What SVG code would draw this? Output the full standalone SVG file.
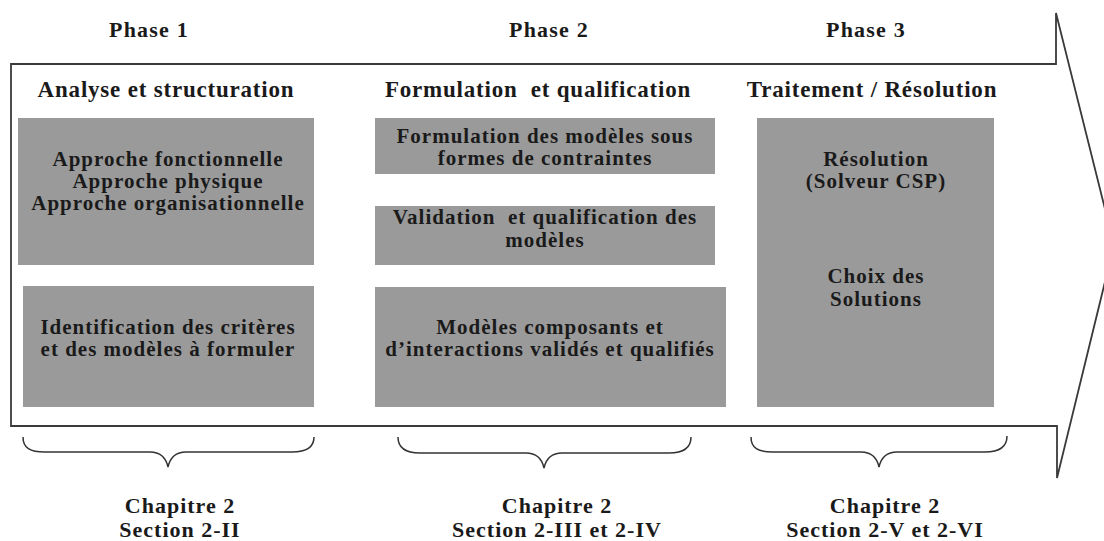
<svg xmlns="http://www.w3.org/2000/svg" width="1104" height="541" viewBox="0 0 1104 541">
  <style>
    .t { font-family: "Liberation Serif", "Times New Roman", serif; font-weight: bold; fill: #1a1a1a; text-anchor: middle; }
    .phase { font-size: 22px; letter-spacing: 1.2px; }
    .head { font-size: 23px; letter-spacing: 0.8px; white-space: pre; }
    .box-text { font-size: 21px; letter-spacing: 1px; white-space: pre; }
    .chap { font-size: 22px; letter-spacing: 1px; }
    .box { fill: #9a9a9a; }
    .outline { fill: none; stroke: #3a3a3a; stroke-width: 1.8; stroke-linejoin: miter; }
    .brace { fill: none; stroke: #333333; stroke-width: 1.5; }
  </style>

  <rect width="1104" height="541" fill="#ffffff"/>

  <!-- large process arrow -->
  <g id="process-arrow">
    <path class="outline" d="M11,64 L1056,64 L1056,13 L1114,245 L1057,478 L1057,426 L11,426 Z"/>
  </g>

  <!-- phase titles -->
  <g id="phase-titles">
    <text class="t phase" x="149" y="37">Phase 1</text>
    <text class="t phase" x="549" y="37">Phase 2</text>
    <text class="t phase" x="866" y="37">Phase 3</text>
  </g>

  <!-- column headings -->
  <g id="headings">
    <text class="t head" x="166" y="97">Analyse et structuration</text>
    <text class="t head" x="538" y="97">Formulation  et qualification</text>
    <text class="t head" x="872" y="97">Traitement / Résolution</text>
  </g>

  <!-- phase 1 boxes -->
  <g id="approches">
    <rect class="box" x="18" y="118" width="296" height="147"/>
    <text class="t box-text" x="168" y="166">Approche fonctionnelle</text>
    <text class="t box-text" x="168" y="188">Approche physique</text>
    <text class="t box-text" x="168" y="210">Approche organisationnelle</text>
  </g>
  <g id="identification">
    <rect class="box" x="23" y="286" width="291" height="121"/>
    <text class="t box-text" x="168" y="334">Identification des critères</text>
    <text class="t box-text" x="168" y="356">et des modèles à formuler</text>
  </g>

  <!-- phase 2 boxes -->
  <g id="formulation">
    <rect class="box" x="375" y="118" width="340" height="56"/>
    <text class="t box-text" x="545" y="143">Formulation des modèles sous</text>
    <text class="t box-text" x="545" y="165">formes de contraintes</text>
  </g>
  <g id="validation">
    <rect class="box" x="375" y="206" width="340" height="59"/>
    <text class="t box-text" x="545" y="224">Validation  et qualification des</text>
    <text class="t box-text" x="545" y="247">modèles</text>
  </g>
  <g id="modeles">
    <rect class="box" x="375" y="287" width="351" height="120"/>
    <text class="t box-text" x="550" y="334">Modèles composants et</text>
    <text class="t box-text" x="550" y="356">d’interactions validés et qualifiés</text>
  </g>

  <!-- phase 3 box -->
  <g id="resolution">
    <rect class="box" x="757" y="118" width="237" height="289"/>
    <text class="t box-text" x="876" y="166">Résolution</text>
    <text class="t box-text" x="876" y="188">(Solveur CSP)</text>
    <text class="t box-text" x="876" y="283">Choix des</text>
    <text class="t box-text" x="876" y="306">Solutions</text>
  </g>

  <!-- braces grouping each phase -->
  <g id="connectors">
    <path class="brace" d="M23,437 C23,448 30,452 45,452 L150,452 C160,452 166,458 168,467 C170,458 176,452 186,452 L292,452 C306,452 314,448 314,437"/>
    <path class="brace" d="M398,437 C398,448 405,453 420,453 L526,453 C536,453 542,459 544,468 C546,459 552,453 562,453 L669,453 C684,453 691,448 691,437"/>
    <path class="brace" d="M751,437 C751,448 758,452 773,452 L861,452 C871,452 877,458 879,467 C881,458 887,452 897,452 L985,452 C1000,452 1007,447 1007,436"/>
  </g>

  <!-- chapter references -->
  <g id="chapitres">
    <text class="t chap" x="180" y="513">Chapitre 2</text>
    <text class="t chap" x="180" y="537">Section 2-II</text>
    <text class="t chap" x="557" y="513">Chapitre 2</text>
    <text class="t chap" x="557" y="537">Section 2-III et 2-IV</text>
    <text class="t chap" x="885" y="513">Chapitre 2</text>
    <text class="t chap" x="885" y="537">Section 2-V et 2-VI</text>
  </g>
</svg>
